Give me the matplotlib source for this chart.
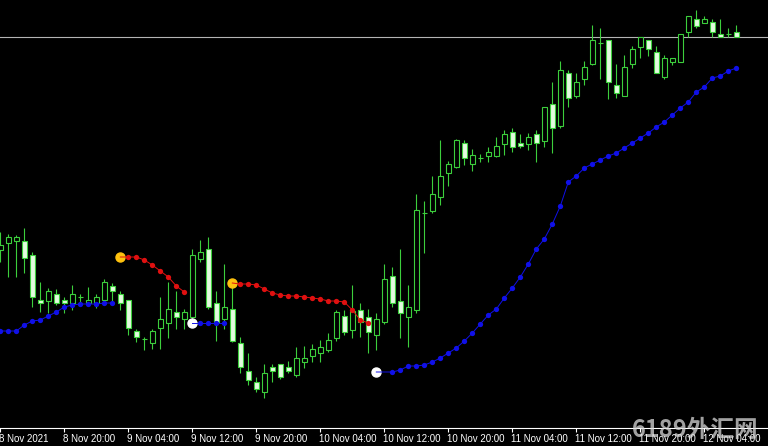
import matplotlib
matplotlib.use("Agg")
import matplotlib.pyplot as plt
import matplotlib.transforms as mtrans
import numpy as np

# hourly candles, 8 Nov 12:00 .. 12 Nov 08:00
opens = [113.300, 113.328, 113.336, 113.336, 113.280, 113.100, 113.096, 113.124, 113.100, 113.088,
         113.112, 113.088, 113.088, 113.100, 113.156, 113.124, 113.100, 112.976, 112.944, 112.928,
         112.988, 113.008, 113.052, 113.024, 113.032, 113.264, 113.304, 113.088, 113.024, 113.064,
         112.928, 112.816, 112.772, 112.732, 112.832, 112.844, 112.832, 112.800, 112.852, 112.876,
         112.888, 112.900, 112.948, 113.036, 112.980, 113.060, 113.032, 112.960, 113.012, 113.196,
         113.096, 113.032, 113.060, 113.448, 113.456, 113.512, 113.608, 113.632, 113.728, 113.644,
         113.668, 113.676, 113.676, 113.724, 113.772, 113.728, 113.724, 113.764, 113.736, 113.884,
         113.796, 114.008, 113.916, 113.984, 114.044, 114.128, 114.140, 113.960, 113.916, 114.044,
         114.112, 114.140, 114.092, 113.992, 114.052, 114.052, 114.172, 114.224, 114.208, 114.212,
         114.164, 114.164, 114.172]
highs = [113.372, 113.364, 113.360, 113.388, 113.292, 113.172, 113.148, 113.144, 113.112, 113.160,
         113.124, 113.152, 113.124, 113.184, 113.168, 113.136, 113.100, 112.984, 112.952, 112.984,
         113.112, 113.172, 113.136, 113.064, 113.304, 113.340, 113.352, 113.136, 113.244, 113.168,
         112.952, 112.888, 112.792, 112.844, 112.844, 112.844, 112.856, 112.912, 112.916, 112.924,
         112.940, 112.968, 113.060, 113.060, 113.160, 113.088, 113.064, 113.048, 113.244, 113.232,
         113.304, 113.160, 113.524, 113.496, 113.596, 113.740, 113.656, 113.744, 113.740, 113.704,
         113.684, 113.712, 113.752, 113.780, 113.788, 113.764, 113.768, 113.780, 113.872, 113.972,
         114.056, 114.020, 114.008, 114.056, 114.200, 114.188, 114.140, 114.044, 114.080, 114.116,
         114.152, 114.140, 114.116, 114.080, 114.068, 114.164, 114.236, 114.260, 114.236, 114.224,
         114.224, 114.188, 114.200]
lows = [113.252, 113.192, 113.192, 113.208, 113.072, 113.052, 113.048, 113.080, 113.048, 113.060,
        113.088, 113.080, 113.068, 113.088, 113.088, 113.060, 112.960, 112.932, 112.900, 112.904,
        112.904, 112.948, 112.984, 112.984, 113.020, 113.252, 113.064, 112.936, 112.984, 112.932,
        112.808, 112.760, 112.732, 112.708, 112.772, 112.784, 112.808, 112.792, 112.828, 112.852,
        112.852, 112.892, 112.936, 112.960, 112.948, 112.952, 112.888, 112.900, 113.004, 113.072,
        112.948, 112.912, 113.048, 113.288, 113.448, 113.480, 113.556, 113.628, 113.640, 113.616,
        113.652, 113.652, 113.672, 113.680, 113.692, 113.708, 113.700, 113.652, 113.712, 113.688,
        113.788, 113.872, 113.908, 113.960, 114.040, 113.984, 113.904, 113.908, 113.916, 114.028,
        114.068, 114.076, 114.008, 113.984, 114.040, 114.052, 114.152, 114.188, 114.208, 114.152,
        114.152, 114.152, 114.152]
closes = [113.320, 113.352, 113.352, 113.268, 113.112, 113.088, 113.136, 113.088, 113.088, 113.124,
          113.112, 113.100, 113.112, 113.172, 113.136, 113.088, 112.988, 112.952, 112.944, 112.976,
          113.024, 113.064, 113.032, 113.052, 113.280, 113.292, 113.072, 113.012, 113.072, 112.936,
          112.832, 112.780, 112.744, 112.808, 112.816, 112.792, 112.816, 112.868, 112.868, 112.904,
          112.912, 112.940, 113.052, 112.972, 113.056, 113.012, 112.972, 113.024, 113.184, 113.088,
          113.048, 113.072, 113.460, 113.448, 113.524, 113.596, 113.644, 113.740, 113.668, 113.680,
          113.668, 113.692, 113.716, 113.764, 113.712, 113.716, 113.752, 113.728, 113.872, 113.788,
          114.020, 113.908, 113.972, 114.032, 114.140, 114.128, 113.972, 113.928, 114.032, 114.104,
          114.152, 114.104, 114.008, 114.068, 114.068, 114.164, 114.236, 114.196, 114.224, 114.172,
          114.152, 114.164, 114.152]

# indicator segments (start bar index, values)
blue1_start = 0
blue1 = [112.976, 112.976, 112.976, 113.000, 113.016, 113.020, 113.036, 113.052, 113.072, 113.080,
         113.084, 113.084, 113.084, 113.088, 113.088]
blue2_start = 24
blue2 = [113.008, 113.008, 113.008, 113.008, 113.008]
blue3_start = 47
blue3 = [112.812, 112.812, 112.812, 112.820, 112.836, 112.836, 112.840, 112.852, 112.868, 112.888,
         112.908, 112.936, 112.968, 113.004, 113.040, 113.064, 113.108, 113.148, 113.192, 113.244,
         113.304, 113.344, 113.404, 113.476, 113.572, 113.596, 113.628, 113.644, 113.660, 113.676,
         113.688, 113.708, 113.728, 113.748, 113.768, 113.792, 113.812, 113.840, 113.868, 113.892,
         113.932, 113.952, 113.988, 113.996, 114.016, 114.028]
red1_start = 15
red1 = [113.272, 113.272, 113.272, 113.260, 113.240, 113.216, 113.192, 113.156, 113.132]
red2_start = 29
red2 = [113.168, 113.164, 113.164, 113.160, 113.144, 113.128, 113.120, 113.116, 113.116, 113.112,
        113.108, 113.104, 113.096, 113.096, 113.092, 113.060, 113.020, 113.008]

bid_price = 114.152

tick_bars = [0, 8, 16, 24, 32, 40, 48, 56, 64, 72, 80, 88]
tick_labels = ["8 Nov 2021", "8 Nov 20:00", "9 Nov 04:00", "9 Nov 12:00", "9 Nov 20:00",
               "10 Nov 04:00", "10 Nov 12:00", "10 Nov 20:00", "11 Nov 04:00",
               "11 Nov 12:00", "11 Nov 20:00", "12 Nov 04:00"]

GREEN = "#3ccf3c"
BEAR_FILL = "#e4fbe0"

fig = plt.figure(figsize=(7.68, 4.46), dpi=100, facecolor="black")
ax = fig.add_axes([0, 18 / 446, 1, 428 / 446])
ax.set_facecolor("black")

x = np.arange(len(opens))
o = np.array(opens)
c = np.array(closes)

# wicks
ax.vlines(x, lows, highs, color=GREEN, linewidth=0.8, zorder=1)
# bodies: hollow for up bars, filled for down bars
bull = c >= o
bottoms = np.minimum(o, c)
heights = np.abs(c - o)
ax.bar(x[bull], heights[bull], bottom=bottoms[bull], width=0.62,
       facecolor="black", edgecolor=GREEN, linewidth=0.8, zorder=2)
ax.bar(x[~bull], heights[~bull], bottom=bottoms[~bull], width=0.62,
       facecolor=BEAR_FILL, edgecolor=GREEN, linewidth=0.8, zorder=2)

# bid line
ax.axhline(bid_price, color="#b4b4b4", linewidth=0.8, zorder=0)


def draw_segment(start, vals, color, start_color=None, skip=0):
    xs = np.arange(start, start + len(vals))
    if start_color is not None:
        ax.plot(xs[0], vals[0], "o", color=start_color, markersize=6.5, zorder=3)
        first = 1 + skip
    else:
        first = 0
    ax.plot(xs, vals, "-", color=color, linewidth=0.7, zorder=4)
    ax.plot(xs[first:], vals[first:], "o", color=color, markersize=3.8,
            markeredgewidth=0, zorder=5)


draw_segment(blue1_start, blue1, "#1010e8")
draw_segment(blue2_start, blue2, "#1010e8", start_color="white")
draw_segment(blue3_start, blue3, "#1010e8", start_color="white", skip=1)
draw_segment(red1_start, red1, "#e01010", start_color="#ffc20e")
draw_segment(red2_start, red2, "#e01010", start_color="#ffc20e")

ax.set_xlim(-0.04, 95.96)
ax.set_ylim(114.30 - 0.004 * 428, 114.30)

for s in ["top", "left", "right"]:
    ax.spines[s].set_visible(False)
ax.spines["bottom"].set_color("white")
ax.spines["bottom"].set_linewidth(0.8)
ax.set_yticks([])
ax.set_xticks(tick_bars)
ax.set_xticklabels(tick_labels, family="Liberation Sans", fontsize=7, color="white", ha="left")
ax.tick_params(axis="x", direction="out", length=3, width=0.8, color="white", pad=1.5)
offset = mtrans.ScaledTranslation(-1 / 100, 0, fig.dpi_scale_trans)
for lbl in ax.get_xticklabels():
    lbl.set_transform(lbl.get_transform() + offset)

# site watermark
fig.text(632 / 768, 16 / 446, "6189外汇网", family=["Noto Sans CJK SC", "DejaVu Sans"],
         fontsize=17, fontweight="bold", color="#d8d8d8", alpha=0.75, va="center", ha="left")

fig.savefig("out.png", dpi=100, facecolor="black")
